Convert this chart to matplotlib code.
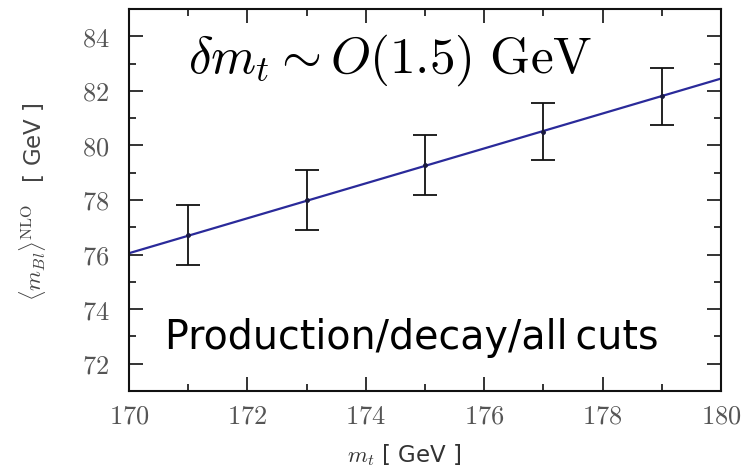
import matplotlib.pyplot as plt
from matplotlib.ticker import MultipleLocator

# top quark mass points and <m_Bl> NLO values
mt = [171, 173, 175, 177, 179]
mbl = [76.7, 78.0, 79.3, 80.5, 81.8]
err = [1.1, 1.1, 1.1, 1.05, 1.05]

# fitted line end points
fit_x = [170, 180]
fit_y = [76.05, 82.45]

xticks = [170, 172, 174, 176, 178, 180]
yticks = [72, 74, 76, 78, 80, 82, 84]

plt.rcParams['mathtext.fontset'] = 'cm'

fig = plt.figure(figsize=(7.52, 4.72), dpi=100)
ax = fig.add_axes([129/752, 1 - 391/472, (721-129)/752, (391-9)/472])

ax.plot(fit_x, fit_y, color='#2a2a9a', lw=1.6, zorder=2)
ax.errorbar(mt, mbl, yerr=err, fmt='o', ms=2.5, color='#1a1a40', ecolor='#111111',
            elinewidth=1.3, capsize=8.5, capthick=1.3, zorder=3)

ax.set_xlim(170, 180)
ax.set_ylim(71, 85)
ax.set_xticks(xticks)
ax.set_yticks(yticks)
ax.xaxis.set_minor_locator(MultipleLocator(1))
ax.yaxis.set_minor_locator(MultipleLocator(1))
ax.tick_params(which='both', direction='in', top=True, right=True, colors='#111111',
               labelcolor='#555555', labelsize=19)
ax.tick_params(axis='x', pad=9)
ax.tick_params(axis='y', pad=14)
ax.tick_params(which='major', length=10, width=1.2)
ax.tick_params(which='minor', length=5, width=1.2)
ax.set_xticklabels([r'$%d$' % v for v in xticks])
ax.set_yticklabels([r'$%d$' % v for v in yticks])
for s in ax.spines.values():
    s.set_linewidth(1.5)
    s.set_color('#111111')

ax.set_xlabel(r'$m_t$ [ GeV ]', fontsize=16.5, color='#333333', labelpad=8)
ax.xaxis.set_label_coords(0.465, -0.135)
ax.set_ylabel(r'$\langle m_{Bl}\rangle^{\rm NLO}$   [ GeV ]', fontsize=16.5, color='#444444')
ax.yaxis.set_label_coords(-0.137, 0.495)

ax.text(0.1, 0.865, r'$\delta m_t \sim O(1.5)\ \mathrm{GeV}$', transform=ax.transAxes,
        fontsize=37, color='black', va='center', ha='left')
ax.text(0.06, 0.14, 'Production/decay/all\u2009cuts', transform=ax.transAxes,
        fontsize=28.5, color='black', va='center', ha='left')

fig.savefig('out.png', dpi=100)
